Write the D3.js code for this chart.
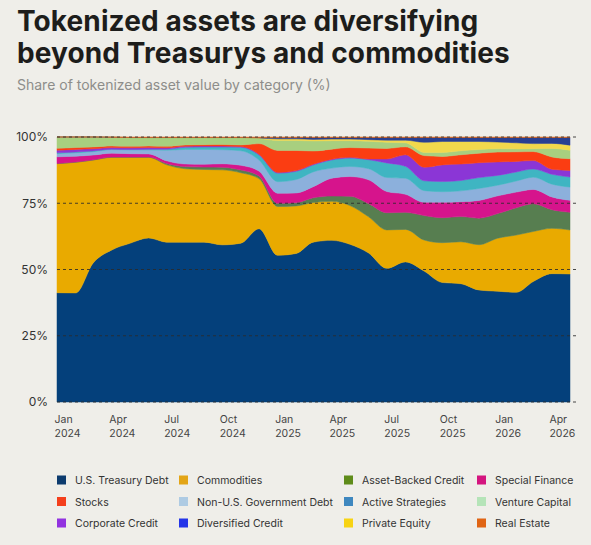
<!DOCTYPE html>
<html>
<head>
<meta charset="utf-8">
<script src="https://cdn.jsdelivr.net/npm/d3@7"></script>
<style>
  body { margin: 0; background: #efeee9; }
  svg { display: block; font-family: Inter, "Noto Sans", sans-serif; }
</style>
</head>
<body>
<div id="chart"></div>
<script>
// monthly snapshots, Jan 2024 .. May 2026
const months = [
  "2024-01", "2024-02", "2024-03", "2024-04", "2024-05", "2024-06", "2024-07", "2024-08",
  "2024-09", "2024-10", "2024-11", "2024-12", "2025-01", "2025-02", "2025-03", "2025-04",
  "2025-05", "2025-06", "2025-07", "2025-08", "2025-09", "2025-10", "2025-11", "2025-12",
  "2026-01", "2026-02", "2026-03", "2026-04", "2026-05"
];

// share of value (%) per category, same order as months
const treasury = [41.4, 41.4, 53, 57.5, 60, 62, 60.3, 60.4, 60.5, 59.3, 60, 65.5, 55.5, 56.3, 60.5, 61.3, 59.8, 56.3, 50.5, 52.6, 49.3, 45, 44.6, 42.2, 41.8, 41.4, 45.5, 48.2, 48.3];
const commodities = [48.9, 49.6, 39.3, 35, 32.5, 30.5, 29.2, 27.8, 27.5, 28.3, 26.6, 19, 18.5, 18, 15, 14.8, 14.7, 13.7, 14.5, 12.2, 11.7, 15, 15.8, 17.1, 20, 21.6, 18.9, 17, 16.6];
const assetBacked = [0.1, 0.1, 0.1, 0.1, 0.1, 0.1, 0.5, 0.8, 0.9, 1.0, 1.0, 1.0, 1.2, 1.2, 1.8, 2.0, 3.5, 5.0, 6.5, 6.4, 9.2, 9.4, 9.5, 10, 9.3, 10.3, 10.5, 7, 6.7];
const specialFinance = [2.5, 2.2, 1.8, 1.5, 1.3, 1.2, 1.0, 1.0, 1.1, 1.3, 1.8, 1.8, 3.8, 3.7, 4.2, 6.8, 7.5, 9, 8, 6.8, 5, 5.8, 5.6, 6.7, 6.7, 5.9, 5.4, 4.8, 4.5];
const nonUSGov = [1.2, 1.3, 1.3, 1.3, 1.4, 1.5, 4.0, 5.5, 5.6, 5.3, 5.5, 4.2, 4.4, 5.1, 5.6, 3.8, 3.8, 4.2, 5.3, 6, 4.4, 4, 4.1, 4.5, 4, 4.2, 4.6, 4.8, 5];
const activeStrategies = [0.3, 0.3, 0.3, 0.2, 0.2, 0.3, 0.4, 0.8, 0.9, 1.0, 1.3, 1.9, 3.2, 3.1, 2.6, 3.1, 3.2, 3.4, 5.5, 4.5, 3.7, 3.8, 3.9, 4.1, 3.7, 3.4, 3.1, 3.7, 3.8];
const corporateCredit = [1.0, 1.0, 0.8, 0.6, 0.6, 0.6, 0.5, 0.4, 0.4, 0.4, 0.3, 0.3, 0.3, 0.3, 0.3, 0.3, 0.3, 0.3, 1.5, 4.3, 5.1, 6.3, 6.2, 5.6, 5.1, 4.0, 3.2, 1.9, 2.5];
const stocks = [0.7, 0.7, 0.7, 0.6, 0.6, 0.6, 0.6, 0.5, 0.5, 0.6, 0.6, 4.0, 8.3, 7.6, 5, 3.8, 3.7, 4.1, 4, 3, 4.4, 3.2, 3.5, 3.6, 3.7, 3.6, 3.4, 4.6, 4.4];
const ventureCapital = [4.3, 4.0, 3.8, 3.3, 3.3, 3.2, 3.3, 2.8, 2.7, 2.6, 2.8, 1.9, 3.8, 3.8, 3.8, 3.2, 2.6, 2.6, 2.3, 1.5, 1.2, 1.5, 1.5, 1.4, 1.3, 1.1, 1.1, 3.2, 3.2];
const privateEquity = [0, 0, 0, 0, 0, 0, 0, 0, 0, 0, 0, 0.2, 0.6, 0.6, 0.6, 0.6, 0.6, 0.6, 0.8, 1.0, 3.8, 4.1, 3.5, 3, 2.5, 2.3, 1.9, 1.9, 1.9];
const diversifiedCredit = [0, 0, 0, 0, 0, 0, 0, 0, 0, 0, 0, 0.2, 0.5, 0.5, 0.7, 0.6, 0.6, 0.8, 1.0, 1.0, 1.8, 1.5, 1.5, 1.5, 1.7, 2.0, 2.3, 2.2, 2.9];
const realEstate = [0, 0, 0, 0.1, 0.2, 0.2, 0.2, 0.2, 0.2, 0.2, 0.2, 0.2, 0.2, 0.2, 0.2, 0.2, 0.2, 0.2, 0.2, 0.2, 0.2, 0.2, 0.2, 0.2, 0.2, 0.2, 0.2, 0.2, 0.2];

// stack order, bottom to top
const categories = [
  "U.S. Treasury Debt", "Commodities", "Asset-Backed Credit", "Special Finance",
  "Non-U.S. Government Debt", "Active Strategies", "Corporate Credit", "Stocks",
  "Venture Capital", "Private Equity", "Diversified Credit", "Real Estate"
];
const seriesValues = [
  treasury, commodities, assetBacked, specialFinance, nonUSGov, activeStrategies,
  corporateCredit, stocks, ventureCapital, privateEquity, diversifiedCredit, realEstate
];

// legend reading order (row by row)
const legendOrder = [
  "U.S. Treasury Debt", "Commodities", "Asset-Backed Credit", "Special Finance",
  "Stocks", "Non-U.S. Government Debt", "Active Strategies", "Venture Capital",
  "Corporate Credit", "Diversified Credit", "Private Equity", "Real Estate"
];

const yTicks = [0, 0.25, 0.5, 0.75, 1];
const xTicks = ["2024-01", "2024-04", "2024-07", "2024-10", "2025-01", "2025-04", "2025-07", "2025-10", "2026-01", "2026-04"];

// area colours and legend swatch colours
const areaColors = {
  "U.S. Treasury Debt": "#04407b",
  "Commodities": "#e9aa00",
  "Asset-Backed Credit": "#577e50",
  "Special Finance": "#d6148c",
  "Non-U.S. Government Debt": "#8cb0dc",
  "Active Strategies": "#3fb5c2",
  "Corporate Credit": "#8b36d6",
  "Stocks": "#fb3d12",
  "Venture Capital": "#a8cf7f",
  "Private Equity": "#f1d84c",
  "Diversified Credit": "#283f92",
  "Real Estate": "#e3691c"
};
const swatchColors = {
  "U.S. Treasury Debt": "#0c3b6e",
  "Commodities": "#e3a516",
  "Asset-Backed Credit": "#5f8c1a",
  "Special Finance": "#d4157f",
  "Non-U.S. Government Debt": "#aecbe3",
  "Active Strategies": "#3f88bf",
  "Corporate Credit": "#9233e0",
  "Stocks": "#f43f1c",
  "Venture Capital": "#b5e4b8",
  "Private Equity": "#f7d313",
  "Diversified Credit": "#2435e8",
  "Real Estate": "#e06414"
};

const parseMonth = d3.timeParse("%Y-%m");
const data = months.map((m, i) => {
  const row = { date: parseMonth(m) };
  categories.forEach((c, j) => { row[c] = seriesValues[j][i]; });
  return row;
});

const W = 591, H = 545;
const margin = { top: 137, right: 21, bottom: 143, left: 57 };
const width = W - margin.left - margin.right;
const height = H - margin.top - margin.bottom;

const svg = d3.select("#chart").append("svg")
  .attr("width", W)
  .attr("height", H);

svg.append("rect").attr("width", W).attr("height", H).attr("fill", "#efeee9");

// title and subtitle
const title = svg.append("text")
  .attr("x", 17)
  .attr("y", 31)
  .attr("fill", "#1d1d1b")
  .style("font-size", "28px")
  .style("font-weight", 700)
  .style("letter-spacing", "0.1px");
title.append("tspan").attr("x", 17).text("Tokenized assets are diversifying");
title.append("tspan").attr("x", 17).attr("dy", 32).text("beyond Treasurys and commodities");

svg.append("text")
  .attr("x", 17)
  .attr("y", 90)
  .attr("fill", "#8d8d8a")
  .style("font-size", "14px")
  .text("Share of tokenized asset value by category (%)");

const g = svg.append("g")
  .attr("transform", "translate(" + margin.left + "," + margin.top + ")");

const x = d3.scaleTime()
  .domain(d3.extent(data, d => d.date))
  .range([0, width]);
const y = d3.scaleLinear().domain([0, 1]).range([height, 0]);

const stack = d3.stack()
  .keys(categories)
  .offset(d3.stackOffsetExpand);
const layers = stack(data);

const area = d3.area()
  .x(d => x(d.data.date))
  .y0(d => y(d[0]))
  .y1(d => y(d[1]))
  .curve(d3.curveMonotoneX);

g.selectAll(".layer")
  .data(layers)
  .enter()
  .append("path")
  .attr("class", "layer")
  .attr("d", area)
  .attr("fill", d => areaColors[d.key])
  .attr("stroke", d => areaColors[d.key])
  .attr("stroke-width", 0.5);

// dashed gridlines on top of the areas
g.selectAll(".grid")
  .data(yTicks)
  .enter()
  .append("line")
  .attr("class", "grid")
  .attr("x1", 0)
  .attr("x2", width + 7)
  .attr("y1", d => y(d))
  .attr("y2", d => y(d))
  .attr("stroke", "#2a2a2a")
  .attr("stroke-opacity", 0.85)
  .attr("stroke-dasharray", "3,3");

// y axis
const yAxis = d3.axisLeft(y)
  .tickValues(yTicks)
  .tickFormat(d3.format(".0%"))
  .tickSize(0)
  .tickPadding(9);
g.append("g")
  .attr("class", "y-axis")
  .call(yAxis)
  .call(s => s.select(".domain").remove())
  .selectAll("text")
  .attr("fill", "#333")
  .style("font-size", "12px")
  .style("font-family", "Inter, sans-serif");

// x axis: month over year, left aligned
const xAxis = d3.axisBottom(x)
  .tickValues(xTicks.map(parseMonth))
  .tickSize(0)
  .tickFormat("");
const xg = g.append("g")
  .attr("class", "x-axis")
  .attr("transform", "translate(0," + height + ")")
  .call(xAxis);
xg.select(".domain").remove();
xg.selectAll(".tick").append("text")
  .attr("x", -3)
  .attr("y", 21)
  .attr("fill", "#444")
  .style("text-anchor", "start")
  .style("font-size", "10.5px")
  .style("font-family", "Inter, sans-serif")
  .each(function (d) {
    const t = d3.select(this);
    t.append("tspan").attr("x", -3).text(d3.timeFormat("%b")(d));
    t.append("tspan").attr("x", -3).attr("dy", 14).text(d3.timeFormat("%Y")(d));
  });

// legend
const colX = [57, 179, 344, 477];
const rowY = [480, 501.5, 523];
const legend = svg.selectAll(".legend-item")
  .data(legendOrder)
  .enter()
  .append("g")
  .attr("class", "legend-item")
  .attr("transform", (d, i) => "translate(" + colX[i % 4] + "," + rowY[Math.floor(i / 4)] + ")");
legend.append("rect")
  .attr("x", 0)
  .attr("y", -4.5)
  .attr("width", 9)
  .attr("height", 9)
  .attr("fill", d => swatchColors[d]);
legend.append("text")
  .attr("x", 18)
  .attr("y", 4)
  .attr("fill", "#333")
  .style("font-size", "10.5px")
  .text(d => d);
</script>
</body>
</html>
